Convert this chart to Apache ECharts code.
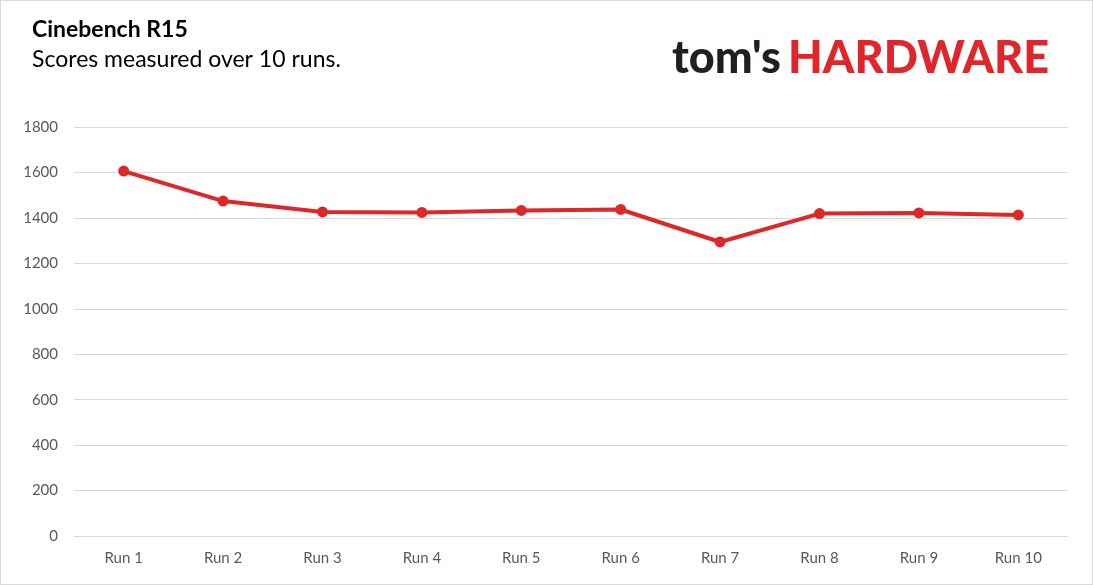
<!DOCTYPE html>
<html><head><meta charset="utf-8">
<script src="https://cdn.jsdelivr.net/npm/echarts@6/dist/echarts.min.js"></script>
<style>html,body{margin:0;padding:0;background:#fff}#c{width:1093px;height:585px;box-sizing:border-box;border:1px solid #d9d9d9}</style>
</head><body><div id="c"></div>
<script>
const categories = ["Run 1","Run 2","Run 3","Run 4","Run 5","Run 6","Run 7","Run 8","Run 9","Run 10"];
const scores = [1606, 1474, 1426, 1424, 1433, 1437, 1294, 1419, 1422, 1413];
const yTicks = {min:0, max:1800, interval:200};
const titleText = "Cinebench R15";
const subtitleText = "Scores measured over 10 runs.";

const chart = echarts.init(document.getElementById('c'));
const font = "Lato, 'Open Sans', sans-serif";
chart.setOption({
  animation:false,
  backgroundColor:'#fff',
  grid:{left:73, right:24, top:126, bottom:48, containLabel:false},
  graphic:[
    {type:'text', left:31, top:17, style:{text:titleText, font:"bold 23px "+font, fill:'#000'}},
    {type:'text', left:31, top:47, style:{text:subtitleText, font:"23px "+font, fill:'#000'}},
    {type:'text', left:671, top:35, style:{text:"tom's", font:"900 45px "+font, fill:'#231f20'}},
    {type:'text', left:787, top:35, style:{text:"HARDWARE", font:"900 45px "+font, fill:'#e0262b'}}
  ],
  xAxis:{type:'category', data:categories, boundaryGap:true,
    axisLine:{show:true, lineStyle:{color:'#d9d9d9'}}, axisTick:{show:false},
    axisLabel:{color:'#595959', fontSize:15, fontFamily:font, margin:15}},
  yAxis:{type:'value', min:yTicks.min, max:yTicks.max, interval:yTicks.interval,
    axisLine:{show:false}, axisTick:{show:false},
    axisLabel:{color:'#595959', fontSize:15, fontFamily:font, margin:16, formatter:v=>String(v)},
    splitLine:{lineStyle:{color:'#d9d9d9', width:1}}},
  series:[{type:'line', data:scores, symbol:'circle', symbolSize:11,
    lineStyle:{color:'#dc2828', width:4}, itemStyle:{color:'#dc2828'}}]
});
</script></body></html>
